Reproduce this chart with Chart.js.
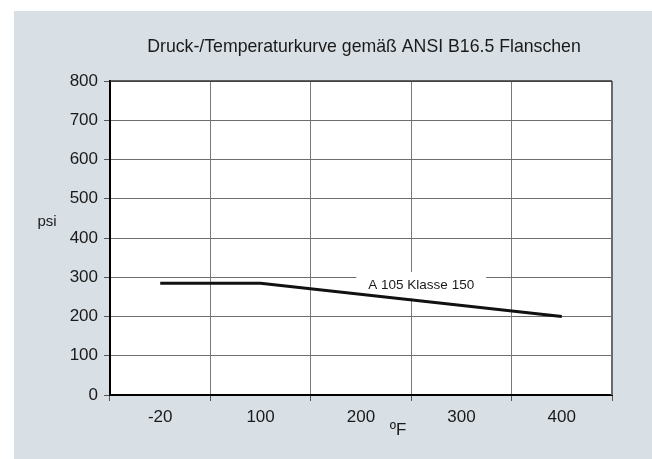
<!DOCTYPE html>
<html>
<head>
<meta charset="utf-8">
<script src="https://cdn.jsdelivr.net/npm/chart.js@4"></script>
<style>
  html, body { margin: 0; padding: 0; background: #ffffff; }
  #wrap { width: 652px; height: 459px; position: relative; }
</style>
</head>
<body>
<div id="wrap"><canvas id="chart" width="652" height="459"></canvas></div>
<script>
// Temperature categories (°F) and pressure rating (psi)
const temps = ['-20', '100', '200', '300', '400'];
const pressure = [285, 285, null, null, 200]; // straight line from 100 to 400
const yTicks = [0, 100, 200, 300, 400, 500, 600, 700, 800];
const seriesName = 'A 105 Klasse 150';
const chartTitle = 'Druck-/Temperaturkurve gemäß ANSI B16.5 Flanschen';

const FONT = "'Liberation Sans', Arial, sans-serif";

function labelPos(chart) {
    return {
        x: chart.scales.x.getPixelForValue(2.6),
        y: chart.scales.y.getPixelForValue(280)
    };
}

// panel background, titles, frame, series label
const decor = {
    id: 'decor',
    beforeDraw(chart) {
        const ctx = chart.ctx;
        ctx.save();
        ctx.fillStyle = '#d8e0e6';
        ctx.fillRect(14, 11, chart.width - 14, chart.height - 11);
        const a = chart.chartArea;
        ctx.fillStyle = '#ffffff';
        ctx.fillRect(a.left, a.top, a.right - a.left, a.bottom - a.top);
        ctx.restore();
    },
    beforeDatasetsDraw(chart) {
        // white box behind the series label, under the line
        const ctx = chart.ctx;
        const p = labelPos(chart);
        ctx.save();
        ctx.font = '13.5px ' + FONT;
        const w = ctx.measureText(seriesName).width;
        ctx.fillStyle = '#ffffff';
        ctx.fillRect(p.x - w / 2 - 12, p.y - 13, w + 24, 26);
        ctx.restore();
    },
    afterDatasetsDraw(chart) {
        const ctx = chart.ctx;
        const a = chart.chartArea;
        ctx.save();
        // right frame
        ctx.strokeStyle = '#6b6b6b';
        ctx.lineWidth = 2;
        ctx.beginPath();
        ctx.moveTo(a.right, a.top);
        ctx.lineTo(a.right, a.bottom);
        ctx.stroke();
        // top frame
        ctx.strokeStyle = '#333';
        ctx.lineWidth = 1.5;
        ctx.beginPath();
        ctx.moveTo(a.left, a.top);
        ctx.lineTo(a.right, a.top);
        ctx.stroke();

        // series label
        const p = labelPos(chart);
        ctx.font = '13.5px ' + FONT;
        ctx.fillStyle = '#1a1a1a';
        ctx.textAlign = 'center';
        ctx.textBaseline = 'middle';
        ctx.fillText(seriesName, p.x, p.y);

        // titles
        ctx.font = '17.7px ' + FONT;
        ctx.fillText(chartTitle, 364, 47);
        ctx.font = '15px ' + FONT;
        ctx.fillText('psi', 47, 222);
        ctx.font = '17px ' + FONT;
        ctx.fillText('ºF', 398, 430);
        ctx.restore();
    }
};

new Chart(document.getElementById('chart').getContext('2d'), {
    type: 'line',
    data: {
        labels: temps,
        datasets: [{
            label: seriesName,
            data: pressure,
            borderColor: '#111111',
            borderWidth: 3,
            pointRadius: 0,
            tension: 0,
            spanGaps: true,
            fill: false
        }]
    },
    options: {
        responsive: false,
        animation: false,
        layout: { padding: { left: 0, right: 40, top: 81, bottom: 0 } },
        plugins: {
            legend: { display: false },
            tooltip: { enabled: false },
            title: { display: false }
        },
        scales: {
            x: {
                type: 'category',
                offset: true,
                afterFit(scale) { scale.height = 64; },
                grid: {
                    offset: true,
                    color: '#7a7a7a',
                    lineWidth: 1,
                    drawTicks: true,
                    tickLength: 6,
                    tickColor: '#555'
                },
                border: { color: '#000', width: 2 },
                ticks: {
                    color: '#1a1a1a',
                    font: { family: FONT, size: 17 },
                    padding: 6,
                    maxRotation: 0
                }
            },
            y: {
                min: 0,
                max: 800,
                afterFit(scale) { scale.width = 110; },
                afterBuildTicks(scale) { scale.ticks = yTicks.map(v => ({ value: v })); },
                grid: {
                    color: '#6e6e6e',
                    lineWidth: 1,
                    drawTicks: true,
                    tickLength: 6,
                    tickColor: '#555'
                },
                border: { color: '#000', width: 2 },
                ticks: {
                    color: '#1a1a1a',
                    font: { family: FONT, size: 17 },
                    padding: 6
                }
            }
        }
    },
    plugins: [decor]
});
</script>
</body>
</html>
